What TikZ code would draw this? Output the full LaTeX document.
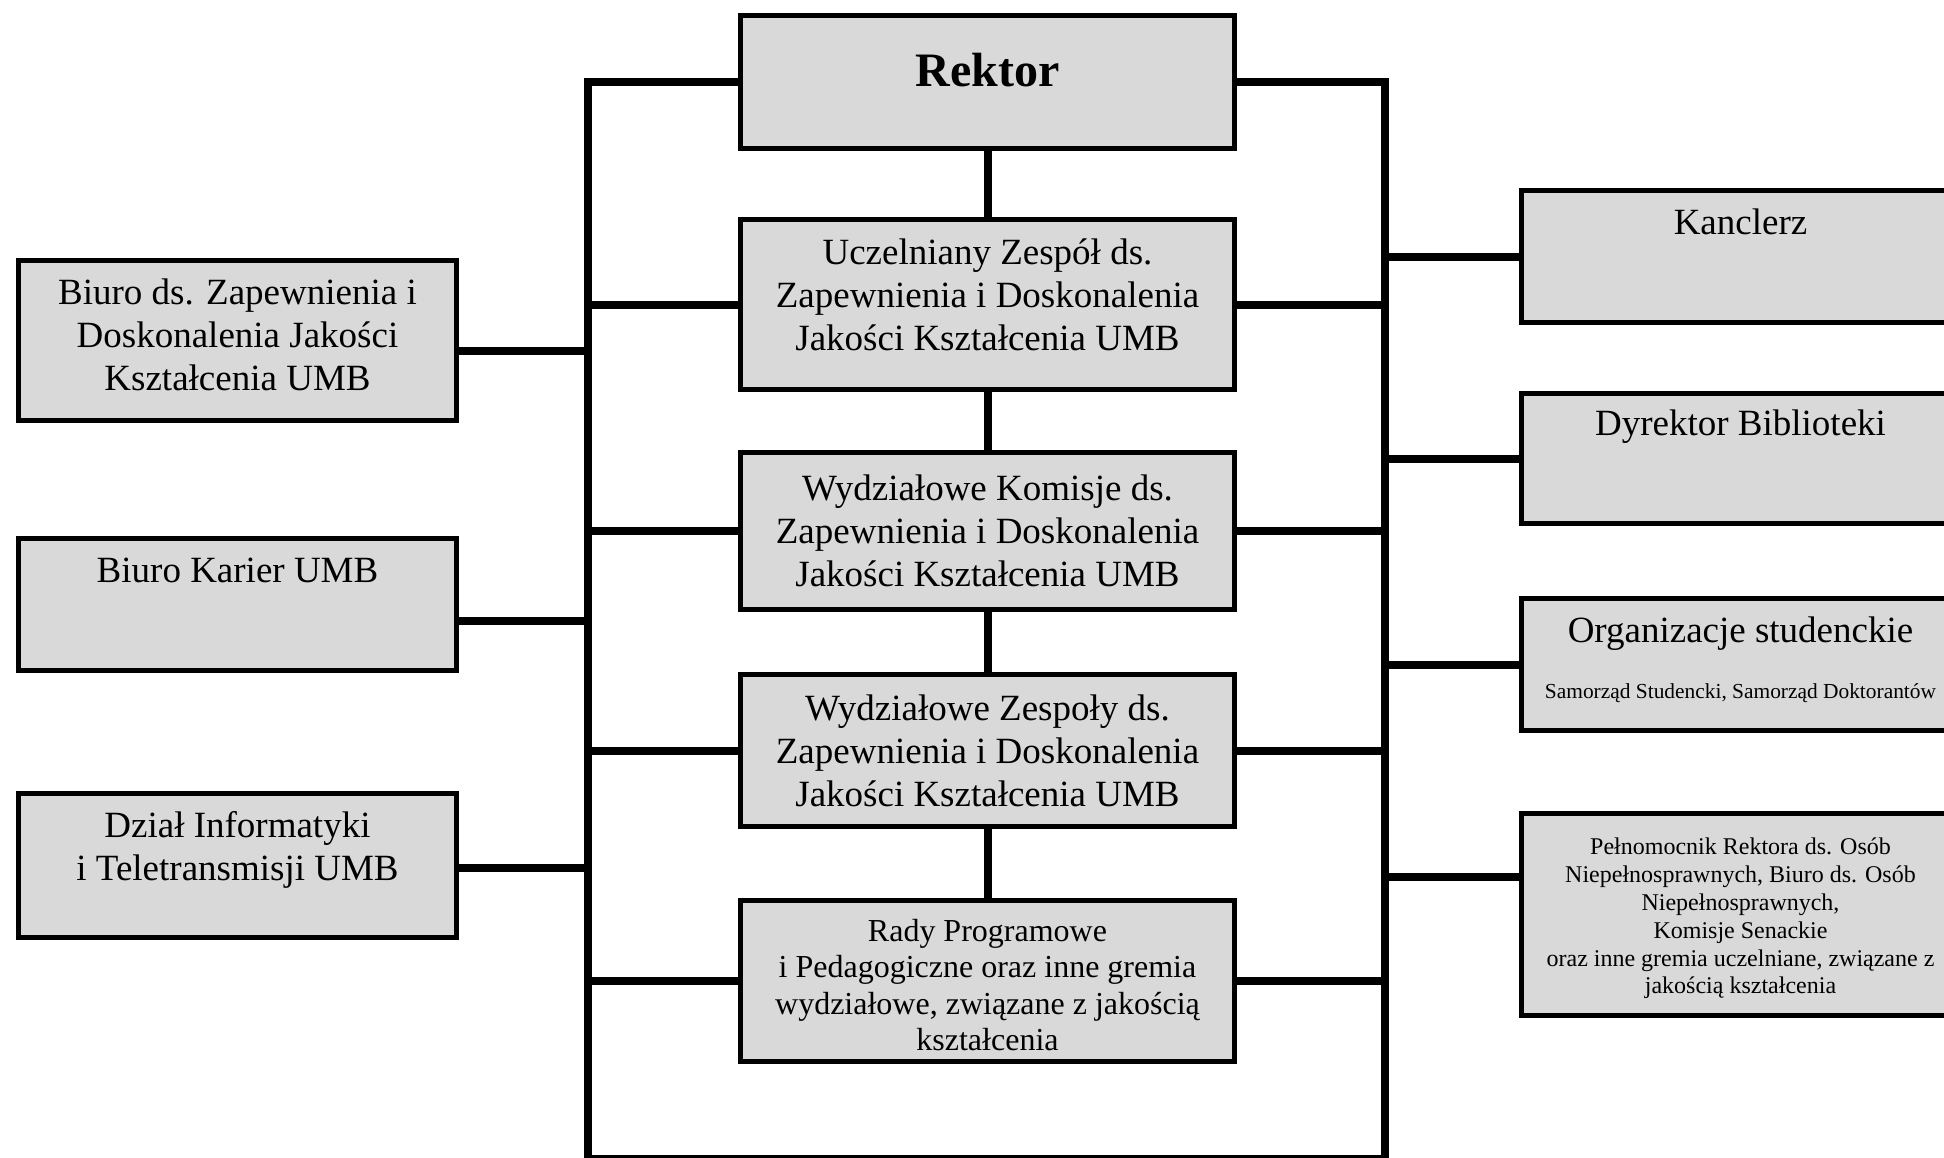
\documentclass[tikz,border=0pt]{standalone}
\usepackage{fontspec}
\setmainfont{Liberation Serif}
\usetikzlibrary{positioning}

\definecolor{boxgray}{HTML}{D9D9D9}
\tikzset{
  box/.style={draw, line width=2.5pt, fill=boxgray, minimum width=247pt, align=center, inner sep=2pt, font=\fontsize{18.5}{21.5}\selectfont},
  sidebox/.style={box, minimum width=219pt},
  txt/.style={inner sep=0pt, align=center, font=\fontsize{18.5}{21.5}\selectfont},
  conn/.style={line width=4pt},
}

\begin{document}
\begin{tikzpicture}[x=0.5pt,y=-0.5pt]
        \clip (0,0) rectangle (1944,1157);
        % middle column
        \node[box, minimum height=66.5pt] (rektor) at (987.5,82) {};
        \node[txt, font=\bfseries\fontsize{24}{28}\selectfont, yshift=6pt] (rektortxt) at (rektor) {Rektor};
        \node[box, minimum height=85pt] (zespol) at (987.5,304.5) {};
        \node[txt, yshift=5pt] (zespoltxt) at (zespol) {Uczelniany Zespół ds.\\Zapewnienia i Doskonalenia\\Jakości Kształcenia UMB};
        \node[box, minimum height=78.5pt] (komisje) at (987.5,531) {Wydziałowe Komisje ds.\\Zapewnienia i Doskonalenia\\Jakości Kształcenia UMB};
        \node[box, minimum height=76pt] (zespoly) at (987.5,750.5) {Wydziałowe Zespoły ds.\\Zapewnienia i Doskonalenia\\Jakości Kształcenia UMB};
        \node[box, minimum height=80.5pt] (rady) at (987.5,981) {};
        \node[txt, font=\fontsize{16}{18.2}\selectfont, yshift=-2pt] (radytxt) at (rady) {Rady Programowe\\i Pedagogiczne oraz inne gremia\\wydziałowe, związane z jakością\\kształcenia};
        % left column
        \node[sidebox, minimum height=80pt] (biuro) at (237.5,340.5) {};
        \node[txt, yshift=3pt] (biurotxt) at (biuro) {Biuro ds. Zapewnienia i\\Doskonalenia Jakości\\Kształcenia UMB};
        \node[sidebox, minimum height=66pt] (kariery) at (237.5,604.5) {};
        \node[txt, below=11pt of kariery.north] (karierytxt) {Biuro Karier UMB};
        \node[sidebox, minimum height=72pt] (dzial) at (237.5,865.5) {};
        \node[txt, below=10pt of dzial.north] (dzialtxt) {Dział Informatyki\\i Teletransmisji UMB};
        % right column
        \node[sidebox, minimum height=66pt] (kanclerz) at (1740.5,256.5) {};
        \node[txt, below=10pt of kanclerz.north] (kanclerztxt) {Kanclerz};
        \node[sidebox, minimum height=65pt] (biblioteka) at (1740.5,458.5) {};
        \node[txt, below=9pt of biblioteka.north] (bibliotekatxt) {Dyrektor Biblioteki};
        \node[sidebox, minimum height=66pt] (organizacje) at (1740.5,664.5) {};
        \node[txt, below=10pt of organizacje.north] (organizacjetxt) {Organizacje studenckie};
        \node[txt, font=\fontsize{10.7}{12}\selectfont] (samorzad) at (1740.5,693) {Samorząd Studencki, Samorząd Doktorantów};
        \node[sidebox, minimum height=101pt] (pelnomocnik) at (1740.5,914.5) {};
        \node[txt, font=\fontsize{12}{13.9}\selectfont, yshift=-2pt] (pelnomocniktxt) at (pelnomocnik) {Pełnomocnik Rektora ds. Osób\\Niepełnosprawnych, Biuro ds. Osób\\Niepełnosprawnych,\\Komisje Senackie\\oraz inne gremia uczelniane, związane z\\jakością kształcenia};
        % frame
        \coordinate (lt) at (588,82);
        \coordinate (rt) at (1385,82);
        \coordinate (lb) at (588,1159);
        \coordinate (rb) at (1385,1159);
        \draw[conn] (rektor.west) -- (lt) -- (lb) -- (rb) -- (rt) -- (rektor.east);
        \draw[conn] (rektor) -- (zespol);
        \draw[conn] (zespol) -- (komisje);
        \draw[conn] (komisje) -- (zespoly);
        \draw[conn] (zespoly) -- (rady);
        \foreach \n in {zespol,komisje,zespoly,rady} {
            \draw[conn] (\n.west) -- (\n.west -| lt);
            \draw[conn] (\n.east) -- (\n.east -| rt);
        }
        \draw[conn] ([yshift=-5pt]biuro.east) -- ([yshift=-5pt]biuro.east -| lt);
        \draw[conn] ([yshift=-8pt]kariery.east) -- ([yshift=-8pt]kariery.east -| lt);
        \draw[conn] ([yshift=-1pt]dzial.east) -- ([yshift=-1pt]dzial.east -| lt);
        \foreach \n in {kanclerz,biblioteka,organizacje} {
            \draw[conn] (\n.west) -- (\n.west -| rt);
        }
        \draw[conn] ([yshift=19pt]pelnomocnik.west) -- ([yshift=19pt]pelnomocnik.west -| rt);
    \end{tikzpicture}
\end{document}
